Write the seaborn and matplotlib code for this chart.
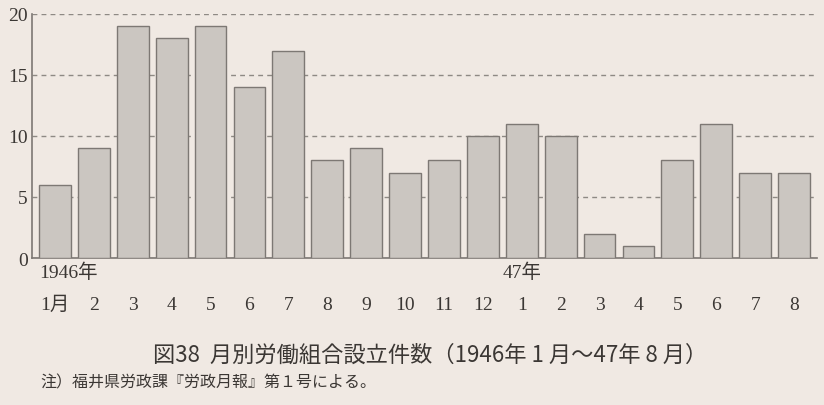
import pandas as pd
import matplotlib
matplotlib.use("Agg")
import matplotlib.pyplot as plt
import matplotlib.transforms as mtransforms
import seaborn as sns

# データ（月別労働組合設立件数）
months = ["1月", "2", "3", "4", "5", "6", "7", "8", "9", "10", "11", "12",
          "1", "2", "3", "4", "5", "6", "7", "8"]
counts = [6, 9, 19, 18, 19, 14, 17, 8, 9, 7, 8, 10, 11, 10, 2, 1, 8, 11, 7, 7]
year_labels = ["1946年", "47年"]
year_pos = [0, 12]
yticks = [0, 5, 10, 15, 20]

title = "図38  月別労働組合設立件数（1946年 1 月～47年 8 月）"
note = "注）福井県労政課『労政月報』第１号による。"

bg = "#f0e9e3"
ink = "#3b3734"
serif = ["Liberation Serif", "Noto Sans CJK JP"]
sans = ["Noto Sans CJK JP", "DejaVu Sans"]

sns.set_style("white")
plt.rcParams["font.family"] = sans

df = pd.DataFrame({"idx": range(len(counts)), "count": counts})

fig = plt.figure(figsize=(8.24, 4.06), dpi=100, facecolor=bg)
ax = fig.add_axes([32 / 824, 1 - 259 / 406, (817 - 32) / 824, (259 - 15) / 406])
ax.set_facecolor(bg)

sns.barplot(data=df, x="idx", y="count", color="#cbc6c1", width=0.82,
            edgecolor="#7d7874", linewidth=1.0, saturation=1, ax=ax, zorder=3)

ax.set_xlim(-0.59, len(counts) - 0.41)
ax.set_ylim(0, 20)
ax.set_yticks(yticks)
ax.set_yticklabels([str(v) for v in yticks], family=serif, fontsize=14, color=ink)
ax.set_xticks(range(len(months)))
ax.set_xticklabels(months, family=serif, fontsize=14, color=ink)
ax.tick_params(axis="x", length=0, pad=27)
ax.tick_params(axis="y", length=0, pad=3)
ax.set_xlabel("")
ax.set_ylabel("")

# 破線の目盛線
ax.yaxis.grid(True, linestyle=(0, (3.5, 3)), color="#8e8984", linewidth=1.0, zorder=0)
ax.xaxis.grid(False)
for s in ["top", "right"]:
    ax.spines[s].set_visible(False)
for s in ["left", "bottom"]:
    ax.spines[s].set_color("#7d7874")
    ax.spines[s].set_linewidth(1.2)

# 年ラベル
trans = mtransforms.blended_transform_factory(ax.transData, ax.transAxes)
ax.text(year_pos[0] - 0.41, -0.058, year_labels[0], transform=trans, ha="left",
        va="center", family=serif, fontsize=14, color=ink)
ax.text(year_pos[1], -0.058, year_labels[1], transform=trans, ha="center",
        va="center", family=serif, fontsize=14, color=ink)

fig.text(0.522, 1 - 355 / 406, title, ha="center", va="center",
         fontsize=16, color=ink, family=sans)
fig.text(40 / 824, 1 - 383 / 406, note, ha="left", va="center",
         fontsize=11.5, color=ink, family=sans)

fig.savefig("out.png", dpi=100, facecolor=bg)
